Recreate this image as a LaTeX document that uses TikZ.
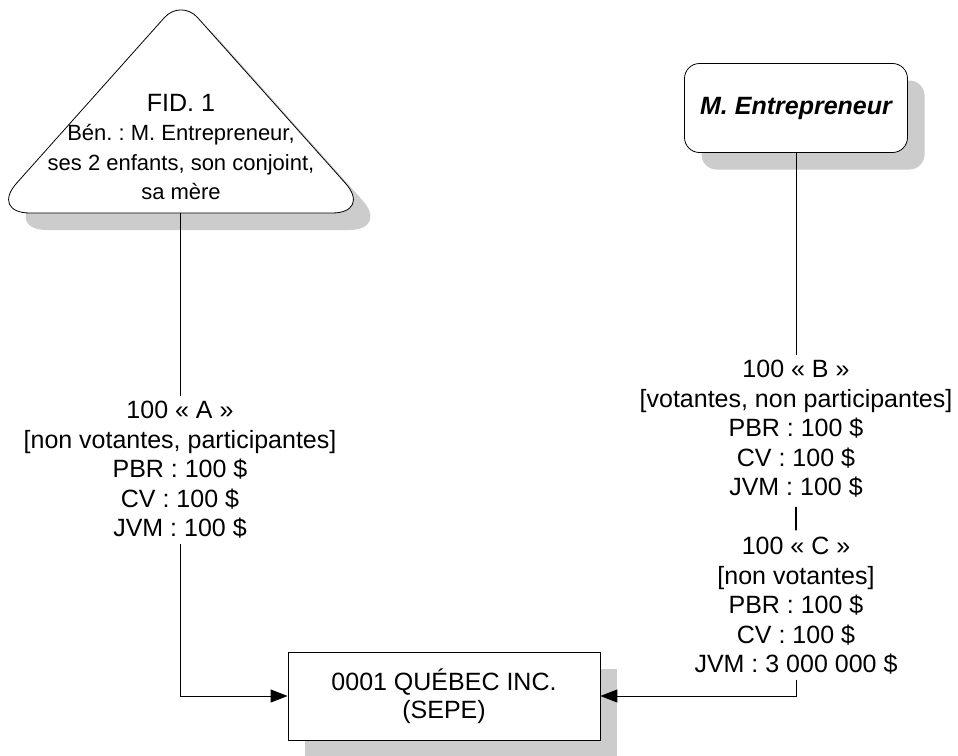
\documentclass[tikz,border=0pt]{standalone}
\usepackage{fontspec}
\setmainfont{Liberation Sans}
\usetikzlibrary{arrows.meta,shadows}
\frenchspacing

\begin{document}
\begin{tikzpicture}
    [
    x=1pt,y=-1pt,
    box/.style={draw,fill=white,line width=0.8pt,inner sep=0pt,align=center,
      font=\fontsize{25}{28}\selectfont,
      drop shadow={shadow xshift=17pt,shadow yshift=-17pt,fill=gray!40,opacity=1}},
    fidtext/.style={align=center,inner sep=0pt,font=\fontsize{22}{29.5}\selectfont},
    shares/.style={align=center,anchor=north,inner xsep=0pt,inner ysep=5pt,
      font=\fontsize{25}{29.5}\selectfont},
    edge/.style={line width=1pt},
    link/.style={edge,-{Triangle[length=17pt,width=13pt]}}
    ]
\useasboundingbox (0,0) rectangle (958,755);
\fill[gray!40,shift={(17,17)}] (181,213) [rounded corners=40pt] -- (-10,213)
  [rounded corners=25pt] -- (181,-1) [rounded corners=40pt] -- (372,213) -- cycle;
\draw[fill=white,line width=0.8pt] (181,213) [rounded corners=40pt] -- (-10,213)
  [rounded corners=25pt] -- (181,-1) [rounded corners=40pt] -- (372,213) -- cycle;
\node[fidtext] (fid) at (181,147) {{\fontsize{25}{29.5}\selectfont FID. 1}\\Bén. : M. Entrepreneur,\\ses 2 enfants, son conjoint,\\sa mère};
\coordinate (fidbot) at (180,213);
\node[box,rounded corners=15pt,minimum width=223pt,minimum height=89pt,
  font=\fontsize{25}{28}\selectfont\bfseries\itshape] (ment) at (796,108) {M. Entrepreneur};
\node[box,minimum width=312pt,minimum height=88pt] (sepe) at (444,696) {0001 QUÉBEC INC.\\(SEPE)};
\node[shares] (a) at (180,396) {100 « A »\\{}[non votantes, participantes]\\PBR : 100 \$\\CV : 100 \$\\JVM : 100 \$};
\node[shares] (bc) at (796,355) {100 « B »\\{}[votantes, non participantes]\\PBR : 100 \$\\CV : 100 \$\\JVM : 100 \$\\|\\100 « C »\\{}[non votantes]\\PBR : 100 \$\\CV : 100 \$\\JVM : 3 000 000 \$};
\draw[edge] (fidbot) -- (a);
\draw[link] (a) |- (sepe);
\draw[edge] (ment) -- (bc);
\draw[link] (bc) |- (sepe);
\end{tikzpicture}
\end{document}
